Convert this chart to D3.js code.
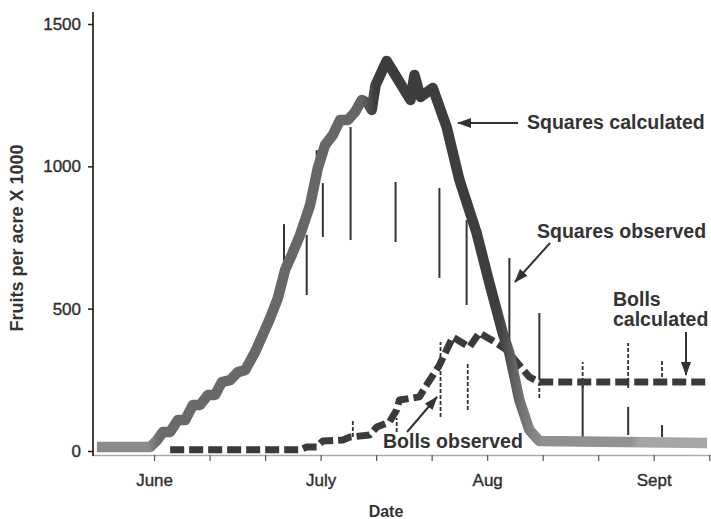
<!DOCTYPE html>
<html>
<head>
<meta charset="utf-8">
<script src="https://cdn.jsdelivr.net/npm/d3@7"></script>
<style>
  html, body { margin: 0; padding: 0; background: #fff; }
  svg { display: block; }
  text { font-family: "Liberation Sans", Arial, Helvetica, sans-serif; fill: #333; }
</style>
</head>
<body>
<svg id="chart" width="711" height="519"></svg>
<script>
// ---- Data (x in days since June 1, y in fruits per acre x 1000) ----
const xTickDays = [0, 10, 20, 30, 40, 50, 60, 70, 80, 90, 100];
const monthLabels = ["June", "July", "Aug", "Sept"];
const monthDays = [0, 30, 60, 90];
const yTicks = [0, 500, 1000, 1500];

// Squares calculated
const sqCalcDays = [-10.3, -0.7, 0.4, 1.6, 2.9, 4.3, 5.6, 7.0, 8.3, 9.7, 11.0, 12.2, 13.7, 15.1, 16.4, 18.2, 19.4, 20.9, 22.3, 23.6, 24.8, 26.3, 28.1, 29.5, 30.8, 32.2, 33.5, 34.9, 36.2, 37.4, 38.5, 39.2, 39.9, 41.9, 46.2, 46.9, 48.0, 50.2, 52.7, 55.0, 58.1, 60.4, 62.8, 64.0, 65.8, 67.6, 69.4, 99.6];
const sqCalcValues = [14, 14, 35, 67, 67, 109, 109, 162, 162, 197, 197, 242, 249, 277, 284, 348, 400, 467, 537, 636, 689, 759, 864, 994, 1075, 1110, 1163, 1163, 1191, 1233, 1222, 1198, 1286, 1370, 1233, 1321, 1244, 1275, 1138, 952, 766, 590, 415, 344, 179, 74, 35, 28];

// Bolls calculated
const bollCalcDays = [2.9, 26.3, 27.5, 29.3, 30.4, 34.0, 35.3, 38.8, 40.1, 42.4, 43.7, 44.2, 47.8, 49.1, 51.4, 53.8, 56.8, 58.6, 61.7, 63.5, 67.6, 69.4, 99.6];
const bollCalcValues = [4, 4, 14, 14, 35, 39, 49, 56, 84, 102, 144, 179, 190, 232, 302, 400, 365, 415, 379, 355, 260, 242, 242];

// Squares observed (ranges)
const sqObsDays = [23.4, 27.5, 29.3, 30.4, 35.4, 43.5, 51.4, 56.3, 64.0, 69.4, 77.2, 85.4, 91.5];
const sqObsLow  = [558, 548, 962, 752, 741, 734, 608, 513, 355, 249, 49, 56, 49];
const sqObsHigh = [797, 759, 1057, 941, 1138, 945, 924, 811, 678, 485, 239, 155, 91];

// Bolls observed (ranges)
const bollObsDays = [35.8, 43.7, 51.6, 56.5, 69.4, 77.2, 85.4, 91.5];
const bollObsLow  = [49, 67, 119, 144, 186, 221, 221, 239];
const bollObsHigh = [109, 116, 383, 309, 249, 313, 379, 320];

// ---- Chart ----
const svg = d3.select("#chart");
const x = d3.scaleLinear().domain([-11, 100.5]).range([93, 712]);
const y = d3.scaleLinear().domain([0, 1500]).range([451, 24]);

const defs = svg.append("defs");
const mk = defs.append("marker").attr("id", "arrow")
  .attr("viewBox", "0 0 14 10").attr("refX", 13).attr("refY", 5)
  .attr("markerWidth", 14).attr("markerHeight", 10)
  .attr("markerUnits", "userSpaceOnUse").attr("orient", "auto");
mk.append("path").attr("d", "M0,0 L14,5 L0,10 Z").attr("fill", "#333");

// gradient for squares calculated line
const grad = defs.append("linearGradient").attr("id", "sqGrad")
  .attr("gradientUnits", "userSpaceOnUse")
  .attr("x1", 0).attr("x2", 711).attr("y1", 0).attr("y2", 0);
[[0, "#8a8a8a"], [x(-1) , "#8a8a8a"], [x(1), "#6a6a6a"], [x(37), "#666"], [x(40), "#3c3c3c"],
 [x(62), "#3e3e3e"], [x(67), "#7a7a7a"], [x(70), "#909090"], [x(86), "#939393"], [x(87.5), "#a5a5a5"], [711, "#a5a5a5"]]
  .forEach(([px, c]) => grad.append("stop").attr("offset", px / 711).attr("stop-color", c));

// Axes
const xAxis = d3.axisBottom(x).tickValues(xTickDays).tickSize(6).tickSizeOuter(0)
  .tickFormat(d => { const i = monthDays.indexOf(d); return i >= 0 ? monthLabels[i] : ""; })
  .tickPadding(13);
const gx = svg.append("g").attr("transform", "translate(0,455)").call(xAxis);
gx.select(".domain").attr("stroke", "#aaa").attr("stroke-width", 1.5);
gx.selectAll(".tick line").attr("stroke", "#555").attr("stroke-width", 1.2);
gx.selectAll(".tick text").attr("font-size", 17).attr("fill", "#222")
  .attr("stroke", "#222").attr("stroke-width", 0.35)
  .attr("font-family", "Liberation Sans, Arial, sans-serif");

const yAxis = d3.axisLeft(y).tickValues(yTicks).tickSize(5).tickPadding(7).tickFormat(d3.format("d"));
const gy = svg.append("g").attr("transform", "translate(93,0)").call(yAxis);
gy.select(".domain").remove();
gy.selectAll(".tick line").attr("stroke", "#222").attr("stroke-width", 1.5);
gy.selectAll(".tick text").attr("font-size", 17).attr("fill", "#222")
  .attr("stroke", "#222").attr("stroke-width", 0.35)
  .attr("font-family", "Liberation Sans, Arial, sans-serif");
svg.append("line").attr("x1", 93).attr("x2", 93).attr("y1", 12).attr("y2", 456)
  .attr("stroke", "#111").attr("stroke-width", 1.6);

// Observed ranges
svg.append("g").selectAll("line").data(sqObsDays).join("line")
  .attr("x1", d => x(d)).attr("x2", d => x(d))
  .attr("y1", (d, i) => y(sqObsLow[i])).attr("y2", (d, i) => y(sqObsHigh[i]))
  .attr("stroke", "#333").attr("stroke-width", 2);
svg.append("g").selectAll("line").data(bollObsDays).join("line")
  .attr("x1", d => x(d)).attr("x2", d => x(d))
  .attr("y1", (d, i) => y(bollObsLow[i])).attr("y2", (d, i) => y(bollObsHigh[i]))
  .attr("stroke", "#333").attr("stroke-width", 1.8).attr("stroke-dasharray", "4,2");

// Calculated lines
const line = d3.line().x(d => x(d[0])).y(d => y(d[1]));
svg.append("path").datum(d3.zip(bollCalcDays, bollCalcValues))
  .attr("d", line).attr("fill", "none").attr("stroke", "#3a3a3a")
  .attr("stroke-width", 7).attr("stroke-dasharray", "14,5").attr("stroke-linejoin", "round");
svg.append("path").datum(d3.zip(sqCalcDays, sqCalcValues))
  .attr("d", line).attr("fill", "none").attr("stroke", "url(#sqGrad)")
  .attr("stroke-width", 10.5).attr("stroke-linejoin", "round");

// Annotations
const ann = svg.append("g").attr("font-weight", "bold").attr("font-size", 19.5);
ann.append("text").attr("x", 527).attr("y", 129).text("Squares calculated");
ann.append("text").attr("x", 537).attr("y", 238).text("Squares observed");
ann.append("text").attr("x", 613).attr("y", 306).text("Bolls");
ann.append("text").attr("x", 613).attr("y", 326).text("calculated");
ann.append("text").attr("x", 383).attr("y", 448).text("Bolls observed");

const arrows = [[518, 123, 458, 123], [550, 243, 515, 282], [686, 332, 686, 375], [407, 432, 437, 397]];
svg.append("g").selectAll("line").data(arrows).join("line")
  .attr("x1", d => d[0]).attr("y1", d => d[1]).attr("x2", d => d[2]).attr("y2", d => d[3])
  .attr("stroke", "#333").attr("stroke-width", 2).attr("marker-end", "url(#arrow)");

// Axis titles
svg.append("text").attr("transform", "translate(23,238) rotate(-90)")
  .attr("text-anchor", "middle").attr("font-weight", "bold").attr("font-size", 18)
  .attr("fill", "#444").text("Fruits per acre X 1000");
svg.append("text").attr("x", 386).attr("y", 517).attr("text-anchor", "middle")
  .attr("font-weight", "bold").attr("font-size", 16).attr("fill", "#333").text("Date");
</script>
</body>
</html>
